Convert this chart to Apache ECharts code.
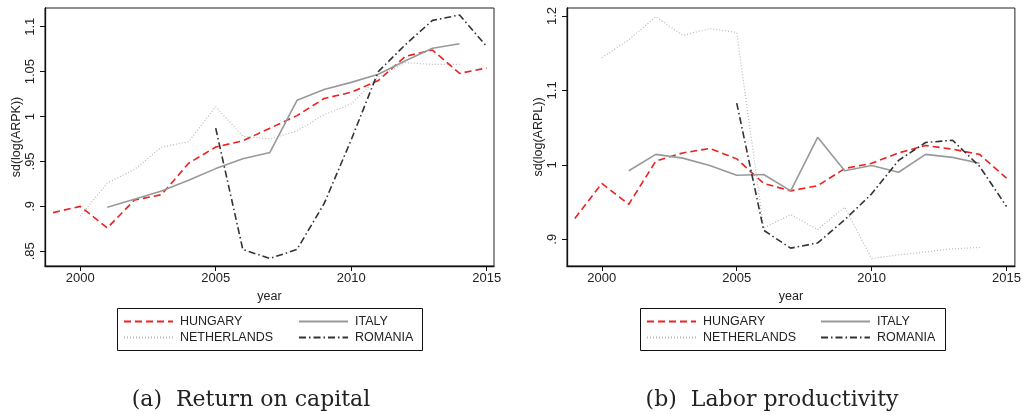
<!DOCTYPE html>
<html>
<head>
<meta charset="utf-8">
<script src="https://cdn.jsdelivr.net/npm/echarts@6/dist/echarts.min.js"></script>
<style>html,body{margin:0;padding:0;background:#fff;}#c{width:1024px;height:414px;}</style>
</head>
<body>
<div id="c"></div>
<script>
// ---- data ----
const yearsA = [1999,2000,2001,2002,2003,2004,2005,2006,2007,2008,2009,2010,2011,2012,2013,2014,2015];
// Panel (a): sd(log(ARPK))
const hungaryK = [0.893,0.900,0.876,0.907,0.913,0.948,0.966,0.973,0.987,1.001,1.020,1.027,1.040,1.067,1.074,1.048,1.054];
const italyK = [null,null,0.899,0.908,0.917,0.929,0.942,0.953,0.960,1.018,1.030,1.038,1.047,1.062,1.076,1.081,null];
const netherlandsK = [null,0.889,0.926,0.941,0.966,0.972,1.011,0.978,0.975,0.984,1.002,1.014,1.044,1.060,1.058,1.058,null];
const romaniaK = [null,null,null,null,null,null,0.987,0.852,0.842,0.852,0.903,0.974,1.050,1.080,1.107,1.113,1.078];
// Panel (b): sd(log(ARPL))
const hungaryL = [0.928,0.975,0.947,1.005,1.016,1.022,1.008,0.975,0.965,0.972,0.995,1.002,1.016,1.026,1.021,1.014,0.982];
const italyL = [null,null,0.992,1.014,1.009,0.999,0.986,0.987,0.965,1.037,0.992,0.999,0.990,1.014,1.010,1.002,null];
const netherlandsL = [null,1.144,1.168,1.199,1.174,1.183,1.178,0.915,0.933,0.913,0.943,0.874,0.879,0.883,0.887,0.889,null];
const romaniaL = [null,null,null,null,null,null,1.083,0.912,0.888,0.895,0.926,0.961,1.006,1.030,1.033,0.998,0.944];
const xTicks = [2000,2005,2010,2015];
const yTicksA = [0.85,0.9,0.95,1,1.05,1.1];
const yTicksB = [0.9,1,1.1,1.2];
const countries = ['HUNGARY','ITALY','NETHERLANDS','ROMANIA'];
const captions = ['(a)  Return on capital','(b)  Labor productivity'];
const yTitles = ['sd(log(ARPK))','sd(log(ARPL))'];

const SANS = 'Liberation Sans';
const styles = {
  HUNGARY: {color:'#ee2020', width:1.6, type:[7,4]},
  ITALY: {color:'#999999', width:1.6, type:'solid'},
  NETHERLANDS: {color:'#b8b8b8', width:1.2, type:[1,2]},
  ROMANIA: {color:'#333333', width:1.6, type:[7,3,1.5,3]}
};
function pairs(vals){ return yearsA.map((y,i)=>[y, vals[i]]).filter(p=>p[1]!==null); }
function fmtY(v){ const s = String(+v.toFixed(2)); return s.startsWith('0') ? s.slice(1) : s; }

const grids = [
  {left:45, top:8, width:449, height:258},
  {left:567, top:8, width:450, height:258}
];
const xRanges = [[1998.70,2015.27],[1998.71,2015.31]];
const yRanges = [[0.8336,1.1208],[0.864,1.2108]];
const yTicks = [yTicksA, yTicksB];
const panelData = [
  {HUNGARY:hungaryK, ITALY:italyK, NETHERLANDS:netherlandsK, ROMANIA:romaniaK},
  {HUNGARY:hungaryL, ITALY:italyL, NETHERLANDS:netherlandsL, ROMANIA:romaniaL}
];

const option = {
  animation:false,
  backgroundColor:'#fff',
  grid: grids.map(g=>Object.assign({show:true, borderColor:'#222', borderWidth:1, backgroundColor:'transparent'}, g)),
  xAxis: [0,1].map(i=>({
    type:'value', gridIndex:i, min:xRanges[i][0], max:xRanges[i][1],
    name:'year', nameLocation:'middle', nameGap:23,
    nameTextStyle:{fontFamily:SANS, fontSize:12.5, color:'#222'},
    axisLine:{show:true, onZero:false, lineStyle:{color:'#111', width:1.3}},
    axisTick:{show:true, length:5, customValues:xTicks, lineStyle:{color:'#111'}},
    axisLabel:{customValues:xTicks, margin:6, fontFamily:SANS, fontSize:13, color:'#222', formatter:v=>String(v)},
    splitLine:{show:false}
  })),
  yAxis: [0,1].map(i=>({
    type:'value', gridIndex:i, min:yRanges[i][0], max:yRanges[i][1],
    name:yTitles[i], nameLocation:'middle', nameGap:21, nameRotate:90,
    nameTextStyle:{fontFamily:SANS, fontSize:12.5, color:'#222'},
    axisLine:{show:true, onZero:false, lineStyle:{color:'#111', width:1.3}},
    axisTick:{show:true, length:5, customValues:yTicks[i], lineStyle:{color:'#111'}},
    axisLabel:{customValues:yTicks[i], rotate:90, margin:8, fontFamily:SANS, fontSize:13, color:'#222', formatter:fmtY},
    splitLine:{show:false}
  })),
  series: [],
  legend: [],
  title: captions.map((t,i)=>({
    text:t, left:[246,767][i], top:384, textAlign:'center',
    textStyle:{fontFamily:'DejaVu Serif', fontSize:22, fontWeight:'normal', color:'#222'}
  })),
  graphic: [
    {type:'rect', shape:{x:117.5, y:308.5, width:305, height:42}, style:{fill:'none', stroke:'#111', lineWidth:1}},
    {type:'rect', shape:{x:640.5, y:308.5, width:305, height:42}, style:{fill:'none', stroke:'#111', lineWidth:1}}
  ]
};

[0,1].forEach(p=>{
  countries.forEach(c=>{
    const s = styles[c];
    option.series.push({
      name:c, type:'line', xAxisIndex:p, yAxisIndex:p,
      data:pairs(panelData[p][c]), symbol:'none', showSymbol:false,
      lineStyle:{color:s.color, width:s.width, type:s.type}, itemStyle:{color:s.color},
      z: c==='NETHERLANDS'?1:2
    });
  });
});

const legendPos = [
  {HUNGARY:[123,315], ITALY:[298,315], NETHERLANDS:[123,331], ROMANIA:[298,331]},
  {HUNGARY:[646,315], ITALY:[820,315], NETHERLANDS:[646,331], ROMANIA:[820,331]}
];
[0,1].forEach(p=>{
  countries.forEach(c=>{
    option.legend.push({
      data:[c], left:legendPos[p][c][0], top:legendPos[p][c][1], padding:0,
      itemWidth:49, itemHeight:14, itemGap:0, selectedMode:false,
      itemStyle:{opacity:0},
      textStyle:{fontFamily:SANS, fontSize:12.5, color:'#222', padding:[0,0,0,2]}
    });
  });
});

const chart = echarts.init(document.getElementById('c'), null, {renderer:'canvas'});
chart.setOption(option);
</script>
</body>
</html>
